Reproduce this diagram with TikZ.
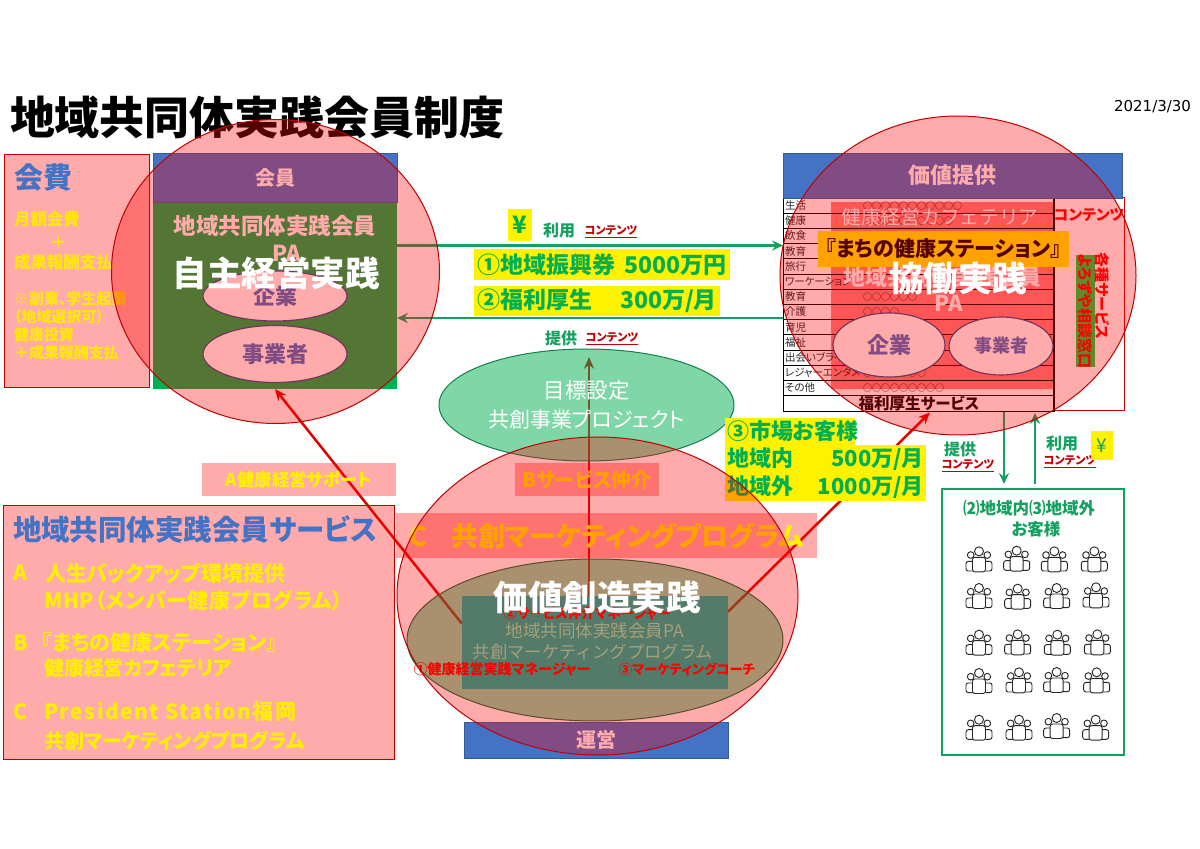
\documentclass[tikz,border=0pt]{standalone}
\usepackage{fontspec}
\setmainfont[RawFeature=+palt]{Noto Sans CJK JP}
\newfontfamily\fullfont{Noto Sans CJK JP}
\newfontfamily\datefont{DejaVu Sans}
\usetikzlibrary{shapes.geometric,arrows.meta,calc}
\newcommand\fs[1]{\fontsize{\fpeval{#1*0.6}}{\fpeval{#1*0.72}}\selectfont}
\newcommand\pxw[1]{\fpeval{#1*0.6}pt}
\definecolor{mblue}{HTML}{4472C4}
\definecolor{mgreen}{HTML}{00B050}
\definecolor{lgreen}{HTML}{14A060}
\definecolor{dred}{HTML}{C00000}
\definecolor{tealbase}{HTML}{00B69E}
\definecolor{tealtext}{HTML}{7DEFB3}
\pgfdeclarelayer{paper}\pgfdeclarelayer{links}
\pgfsetlayers{paper,links,main}
\tikzset{
  sz/.style 2 args={minimum width=\pxw{#1},minimum height=\pxw{#2}},
  rbox/.style={rectangle,anchor=north west,inner sep=0pt,outer sep=0pt},
  txt/.style={inner sep=0pt,outer sep=0pt,align=center},
  ltxt/.style={inner sep=0pt,outer sep=0pt,anchor=west,align=left},
  tint/.style={rbox,fill=red,fill opacity=.33,text opacity=1},
  panel/.style={tint,draw=dred,line width=.6pt},
  header/.style={rbox,fill=mblue,draw=mblue!80!black,line width=.4pt,text=white},
  bubble/.style={ellipse,inner sep=0pt,outer sep=0pt,fill=red,fill opacity=.33,text opacity=1,draw=dred,line width=.6pt},
  oval/.style={ellipse,inner sep=0pt,outer sep=0pt,fill=white,draw=mblue!70!black,line width=.7pt,text=mblue},
  hl/.style={rbox,fill=yellow,text=mgreen},
  redlink/.style={draw={rgb,255:red,225;green,0;blue,0},line width=1.5pt,-{Stealth[length=7pt,width=6pt]}},
  greenlink/.style={draw=lgreen,line width=1.5pt,-{Stealth[length=6.5pt,width=6pt]}},
  people/.pic={
    \begin{scope}[line width=.55pt,draw=black!85,rounded corners=1.4pt]
      \draw (-6.5,2)--(-13,2)--(-13,11.7)--(-6.5,11.7);
      \draw (6.5,2)--(13,2)--(13,11.7)--(6.5,11.7);
      \draw (-6.5,12.5)--(-6.5,-2)--(6.5,-2)--(6.5,12.5)--cycle;
    \end{scope}
    \draw[line width=.55pt,draw=black!85] (0,-8) circle[radius=2.7pt] (-8.3,-4.3) circle[radius=2pt] (8.3,-4.3) circle[radius=2pt];
  }
}
\begin{document}
\begin{tikzpicture}[x=0.6pt,y=-0.6pt]
\begin{pgfonlayer}{paper}
\fill[white] (0,0) rectangle (1200,849);
\end{pgfonlayer}
\useasboundingbox (0,0) rectangle (1200,849);

% title
\node[ltxt] (title) at (10,117) {\fs{45}\bfseries 地域共同体実践会員制度};
\node[txt,anchor=east] (date) at (1191,107) {\fs{15}\datefont 2021/3/30};

% left column
\node[panel,sz={146}{233}] (fee) at (4,155) {};
\node[ltxt,text=mblue] (feeT) at (14,178) {\fs{29}\bfseries 会費};
\begin{scope}[every node/.append style={ltxt,text={rgb,255:red,255;green,235;blue,0}}]
\node (f1) at (14,219) {\fs{16.5}\bfseries 月額会費};
\node (f2) at (50,242) {\fs{16.5}\bfseries ＋};
\node (f3) at (14,262) {\fs{16.5}\bfseries 成果報酬支払};
\node (f4) at (14,299) {\fs{15}\bfseries ※副業、学生起業};
\node (f5) at (14,317) {\fs{15}\bfseries （地域選択可）};
\node (f6) at (14,335) {\fs{15}\bfseries 健康投資};
\node (f7) at (14,353) {\fs{15}\bfseries ＋成果報酬支払};
\end{scope}
\node[rbox,sz={244}{187},fill=mgreen] (member) at (153,202) {};
\node[header,sz={244}{49}] (memberH) at (153,153) {\fs{20}\bfseries 会員};
\node[txt,text=white] (mA) at (275,226) {\fs{22.5}\bfseries 地域共同体実践会員};
\node[txt,text=white] (mB) at (287,253) {\fs{22}\bfseries PA};
\node[oval,sz={144}{50}] (mC) at (275,296) {\fs{22}\bfseries 企業};
\node[oval,sz={144}{57}] (mD) at (275,354) {\fs{22}\bfseries 事業者};

% banners
\node[tint,sz={194}{33},text=yellow] (bA) at (202,463) {\fs{17.5}\bfseries A健康経営サポート};
\node[tint,sz={144}{33},text=yellow] (bB) at (515,463) {\fs{20}\bfseries Bサービス仲介};
\node[tint,sz={421}{45},text=yellow] (bC) at (396,513) {\fs{27}\bfseries C\hspace{14pt}共創マーケティングプログラム};

% service panel
\node[panel,sz={392}{254}] (svc) at (3,505) {};
\node[ltxt,text=mblue] (svcT) at (13,529) {\fs{28.5}\bfseries 地域共同体実践会員サービス};
\begin{scope}[every node/.append style={ltxt,text={rgb,255:red,255;green,240;blue,0}}]
\node (s1) at (13,573) {\fs{21}\bfseries A};
\node (s2) at (45,573) {\fs{21}\bfseries 人生バックアップ環境提供};
\node (s3) at (44,600) {\fs{21}\bfseries\addfontfeatures{LetterSpace=3} MHP（メンバー健康プログラム）};
\node (s4) at (13,643) {\fs{21}\bfseries B};
\node (s5) at (42,643) {\fs{21}\bfseries 『まちの健康ステーション』};
\node (s6) at (44,668) {\fs{20}\bfseries 健康経営カフェテリア};
\node (s7) at (13,712) {\fs{21}\bfseries C};
\node (s8) at (44,712) {\fs{21}\bfseries\addfontfeatures{LetterSpace=7} President Station福岡};
\node (s9) at (44,741) {\fs{20}\bfseries 共創マーケティングプログラム};
\end{scope}

% centre labels
\node[rbox,sz={24}{32},fill=yellow,text=mgreen] (yen1) at (508,209) {\fs{24}\bfseries ¥};
\node[txt,text=lgreen] (use1) at (559,230) {\fs{16}\bfseries 利用};
\node[txt,text=dred] (con1) at (611,232) {\fs{11.2}\bfseries\underline{コンテンツ}};
\node[hl,sz={256}{31}] (h1) at (474,249) {\makebox[\pxw{250}]{\fs{23}\bfseries ①地域振興券\hfill 5000万円}};
\node[hl,sz={246}{30}] (h2) at (474,286) {\makebox[\pxw{240}]{\fs{23}\bfseries ②福利厚生\hfill 300万/月}};
\node[txt,text=lgreen] (give1) at (561,338) {\fs{16}\bfseries 提供};
\node[txt,text=dred] (con2) at (612,339) {\fs{11.2}\bfseries\underline{コンテンツ}};
\node[ellipse,inner sep=0pt,outer sep=0pt,sz={295}{112},fill=mgreen,fill opacity=.5,text opacity=1,draw=lgreen!80!black,line width=.6pt,text=white,align=center] (goal) at (586.5,405) {\fs{21.5}目標設定\\[5pt]\fs{21}共創事業プロジェクト};

% market box
\node[hl,sz={130}{27}] (m1) at (725,418) {\makebox[\pxw{126}][l]{\fs{22}\bfseries ③市場お客様}};
\node[hl,sz={201}{28}] (m2) at (725,445) {\makebox[\pxw{197}]{\fs{22}\bfseries 地域内\hfill 500万/月}};
\node[hl,sz={201}{28}] (m3) at (725,473) {\makebox[\pxw{197}]{\fs{22}\bfseries 地域外\hfill 1000万/月}};

% bottom centre
\node[ellipse,inner sep=0pt,outer sep=0pt,sz={376}{162},fill=mgreen,fill opacity=.5,draw=lgreen!70!black,line width=.6pt] (olive) at (595,640) {};
\node[rbox,sz={266}{93},fill=tealbase] (teal) at (462,596) {};
\node[txt,text=red] (t2) at (587,613) {\fs{13.5}\bfseries ②サービス仲介マネージャー};
\node[txt,text=tealtext] (t3) at (595,631) {\fs{17.5}\fullfont 地域共同体実践会員PA};
\node[txt,text=tealtext] (t4) at (593,652) {\fs{17.3}\fullfont 共創マーケティングプログラム};
\node[txt,text=red] (t5) at (502,669) {\fs{14}\bfseries ①健康経営実践マネージャー};
\node[txt,text=red] (t6) at (687,669) {\fs{13.3}\bfseries ③マーケティングコーチ};
\node[header,sz={264}{36}] (ops) at (464,722) {\fs{20}\bfseries 運営};

% right table
\node[rbox,sz={271}{213},fill=white,draw=black,line width=.5pt] (tbl) at (783,198) {};
\node[rbox,sz={70}{213},draw={rgb,255:red,208;green,0;blue,0},line width=.6pt] (cont) at (1054,198) {};
\node[rbox,sz={222}{187},fill=red,fill opacity=.5] (redbox) at (831,202) {};
\foreach \i in {1,...,13}{
  \draw[black,line width=.5pt] (783,{198+15.2*\i}) -- (1054,{198+15.2*\i});
}
\draw[black,line width=.5pt] (783,198) -- (1054,198);
\draw[black,line width=1pt] (1054,198) -- (1054,411);
\foreach \n/\lab in {1/生活,2/健康,3/飲食,4/教育,5/旅行,6/ワーケーション,7/教育,8/介護,9/育児,10/福祉,11/出会いブライ,12/レジャーエンタメ,13/その他}{
  \node[ltxt,text=black!85] (row\n) at (785,{198+15.2*(\n-0.5)}) {\fs{10.5}\lab};
}
\node[ltxt] (o1) at (863,{198+15.2*0.5}) {\fs{9}\fullfont ○○○○○○○○○○○};
\node[ltxt] (o2) at (863,{198+15.2*1.5}) {\fs{9}\fullfont ○○○○○○○○○○};
\node[ltxt] (o7) at (863,{198+15.2*6.5}) {\fs{9}\fullfont ○○○○○○};
\node[ltxt] (o8) at (863,{198+15.2*7.5}) {\fs{9}\fullfont ○○○○};
\node[ltxt] (o12) at (863,{198+15.2*11.5}) {\fs{9}\fullfont ○○○○○○○};
\node[ltxt] (o13) at (863,{198+15.2*12.5}) {\fs{9}\fullfont ○○○○○○○○○};
\node[header,sz={339}{45}] (valH) at (783,153) {\fs{22}\bfseries 価値提供};
\node[txt,text=white] (r1) at (940,217) {\fs{19.7}\fullfont 健康経営カフェテリア};
\node[txt,text=white] (r2) at (942,277) {\fs{22}\bfseries 地域共同体実践会員};
\node[txt,text=white] (r3) at (949,303) {\fs{22}\bfseries PA};
\node[rbox,sz={251}{36},fill=yellow] (station) at (818,231) {\fs{21}\bfseries 『まちの健康ステーション』};
\node[oval,sz={112}{64}] (rC) at (889,345) {\fs{22}\bfseries 企業};
\node[oval,sz={104}{58}] (rD) at (1001,346) {\fs{18}\bfseries 事業者};
\node[txt] (welfare) at (919,403) {\fs{15.5}\bfseries 福利厚生サービス};
\node[txt,text=red] (cont1) at (1089,215) {\fs{15}\bfseries コンテンツ};
\node[rbox,sz={19}{112},fill={rgb,255:red,16;green,208;blue,64}] (green) at (1076,255) {};
\node[txt,text=red,rotate=-90] (g1) at (1085.5,311) {\fs{15}\bfseries よろずや相談窓口};
\node[txt,text=red,rotate=-90] (g2) at (1102,296) {\fs{15}\bfseries 各種サービス};

% customers
\node[rbox,sz={182}{266},draw=lgreen,line width=1.2pt] (grp) at (942,489) {};
\node[txt,text=lgreen] (c1) at (1029,508) {\fs{16.5}\bfseries ⑵地域内⑶地域外};
\node[txt,text=lgreen] (c2) at (1036,529) {\fs{16.5}\bfseries お客様};
\foreach \zx/\zy in {147/418,260/416,373/418,493/418,147/528,263/530,380/528,498/526,147/668,263/667,382/668,502/667,147/783,267/781,380/780,500/781,147/923,267/923,380/918,497/923}{
  \pic at ({930+\zx/3},{420+\zy/3}) {people};
}
\node[txt,text=lgreen] (give2) at (960,449) {\fs{16}\bfseries 提供};
\node[txt,text=dred] (con3) at (968,466) {\fs{11.2}\bfseries\underline{コンテンツ}};
\node[txt,text=lgreen] (use2) at (1062,443) {\fs{16}\bfseries 利用};
\node[txt,text=dred] (con4) at (1070,462) {\fs{11.2}\bfseries\underline{コンテンツ}};
\node[rbox,sz={22}{29},fill=yellow,text=lgreen] (yen2) at (1091,431) {\fs{19}¥};

% practice circles
\node[bubble,sz={328}{304}] (cL) at (275.5,271.5) {};
\node[bubble,sz={356}{319}] (cR) at (958,275.5) {};
\node[bubble,sz={401}{318}] (cC) at (597.5,596) {};
\node[txt,text=white] (pL) at (276,273) {\fs{34.5}\bfseries 自主経営実践};
\node[txt,text=white] (pR) at (958,278) {\fs{34.5}\bfseries 協働実践};
\node[txt,text=white] (pC) at (597,597) {\fs{34.5}\bfseries 価値創造実践};

% connectors
\coordinate (tipB) at (589,357);
\coordinate (tipC) at (930,412.5);
\coordinate (y1) at (500,245.5);
\coordinate (y2) at (500,318);
\coordinate (d1) at (1004,484);
\coordinate (d2) at (1004,412);
\coordinate (u1) at (1035,484);
\coordinate (u2) at (1035,413);
\begin{pgfonlayer}{links}
\draw[redlink] (teal.172.5) -- (member.south);
\draw[redlink] (teal.north -| tipB) -- (tipB);
\draw[redlink] (teal.13) -- (tipC);
\draw[greenlink] (member.east |- y1) -- (tbl.west |- y1);
\draw[greenlink] (tbl.west |- y2) -- (member.east |- y2);
\draw[greenlink] (d2) -- (d1);
\draw[greenlink] (u1) -- (u2);
\end{pgfonlayer}
\end{tikzpicture}
\end{document}
